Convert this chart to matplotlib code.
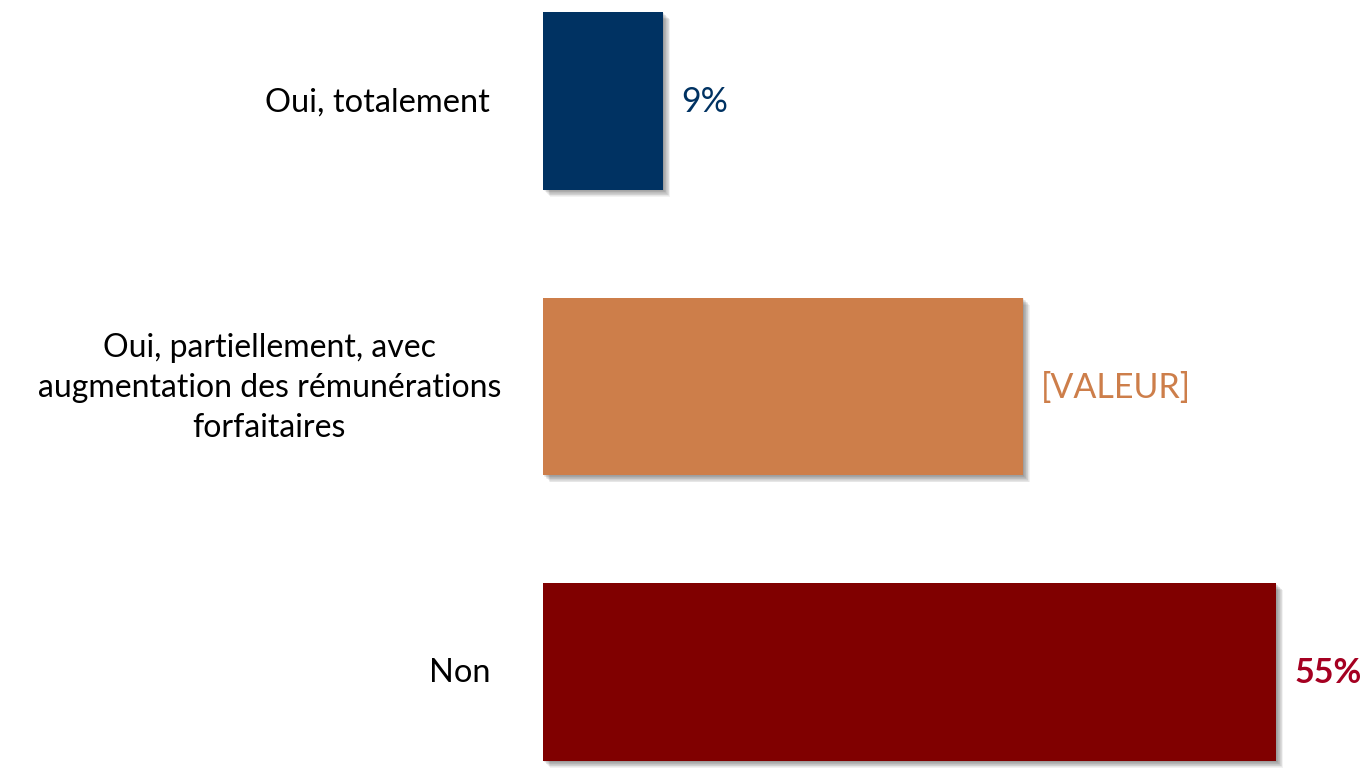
import matplotlib.pyplot as plt
import matplotlib.transforms as mtransforms
from matplotlib.patches import Rectangle

plt.rcParams['font.family'] = ['Lato', 'DejaVu Sans']

categories = [
    'Oui, totalement',
    'Oui, partiellement, avec\naugmentation des rémunérations\nforfaitaires',
    'Non',
]
values = [9, 36, 55]
value_labels = ['9%', '[VALEUR]', '55%']
bar_colors = ['#003262', '#CD7E4A', '#800000']
label_colors = ['#003262', '#CD7E4A', '#A50021']
label_weights = ['normal', 'normal', 'bold']

fig = plt.figure(figsize=(13.64, 7.74), dpi=100)
ax = fig.add_axes([543 / 1364, 0, 1 - 543 / 1364, 1])
ax.set_xlim(0, 821 / 13.33)
ax.set_ylim(2.357, -0.353)
ax.axis('off')

bh = 0.622
for i, (v, c) in enumerate(zip(values, bar_colors)):
  # soft drop shadow, built from stacked translucent rectangles
  for k in range(10):
    off = mtransforms.offset_copy(ax.transData, fig=fig,
                                  x=0.5 + k * 0.5, y=-0.5 - k * 0.5,
                                  units='points')
    ax.add_patch(Rectangle((0, i - bh / 2), v, bh, transform=off,
                           facecolor='#444444', alpha=0.065,
                           edgecolor='none', zorder=1))
  ax.barh(i, v, height=bh, color=c, zorder=2)
  ax.annotate(value_labels[i], (v, i), xytext=(13, -1),
              textcoords='offset points', va='center', ha='left',
              fontsize=24.5, color=label_colors[i],
              fontweight=label_weights[i])

for i, cat in enumerate(categories):
  multi = '\n' in cat
  ax.annotate(cat, (0, i), xytext=(-197 if multi else -38, -1),
              textcoords='offset points', va='center',
              ha='center' if multi else 'right',
              multialignment='center', fontsize=23 if multi else 23.5,
              color='black', linespacing=1.42)

fig.savefig('out.png', dpi=100)
